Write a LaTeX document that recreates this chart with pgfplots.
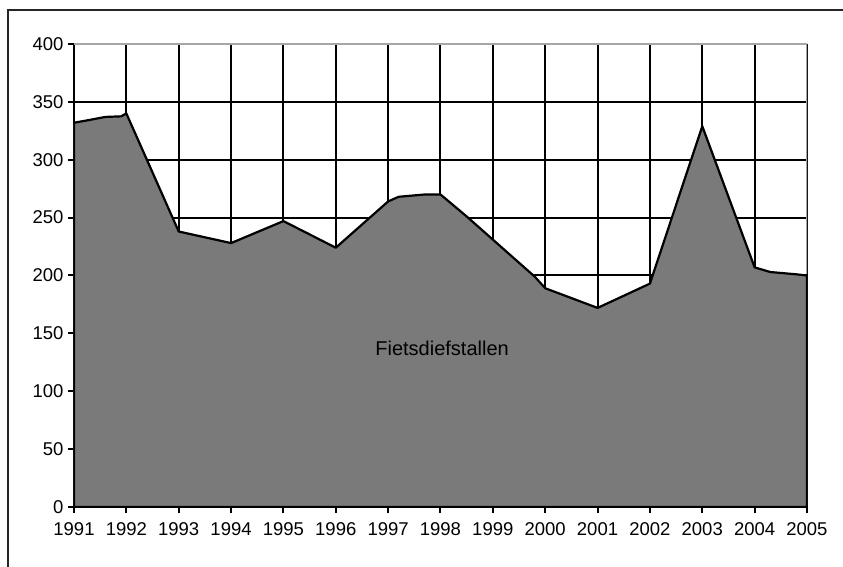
\documentclass[border=0pt]{standalone}
\usepackage{pgfplots}
\pgfplotsset{compat=1.18}
\usepackage{fontspec}
\setmainfont{Liberation Sans}
\definecolor{areagray}{RGB}{122,122,122}
\begin{document}
\begin{tikzpicture}[x=1pt,y=1pt]
\useasboundingbox (-74,-60) rectangle (769,507);
\draw[line width=2.2pt, black!85] (-66,-62) -- (-66,497) -- (771,497);
\begin{axis}[
  at={(0,0)}, anchor=south west,
  scale only axis, width=733pt, height=463pt,
  xmin=1991, xmax=2005, ymin=0, ymax=400,
  xtick={1991,1992,...,2005}, ytick={0,50,...,400},
  grid=major, major grid style={black, line width=2pt},
  axis x line=bottom, axis y line=left,
  axis line style={black, line width=2.2pt, -},
  tick style={black, line width=2pt},
  tick align=outside, major tick length=6pt,
  /pgf/number format/.cd, 1000 sep={}, assume math mode=true,
  /pgfplots/.cd,
  ticklabel style={font=\fontsize{18.5}{21}\selectfont},
  xticklabel style={yshift=-6pt},
  yticklabel style={xshift=-1pt},
]
\addplot[draw=black, line width=2.2pt, fill=areagray, line join=round] coordinates {
(1991,332) (1991.25,334) (1991.6,337) (1991.9,337.5) (1992,340)
(1993,238) (1993.5,233) (1994,228) (1995,247) (1996,224)
(1997,264) (1997.2,268) (1997.7,270) (1998,270)
(1998.5,251) (1999,231) (1999.8,199) (2000,189) (2001,172)
(2002,193) (2003,329) (2004,207) (2004.3,203) (2004.8,201) (2005,200)
} \closedcycle;
\draw[gray!70, line width=2.2pt] (rel axis cs:0,1) -- (rel axis cs:1,1) -- (axis cs:2005,201);
\node[font=\fontsize{20}{24}\selectfont] at (axis cs:1998.03,137) {Fietsdiefstallen};
\end{axis}
\end{tikzpicture}
\end{document}
